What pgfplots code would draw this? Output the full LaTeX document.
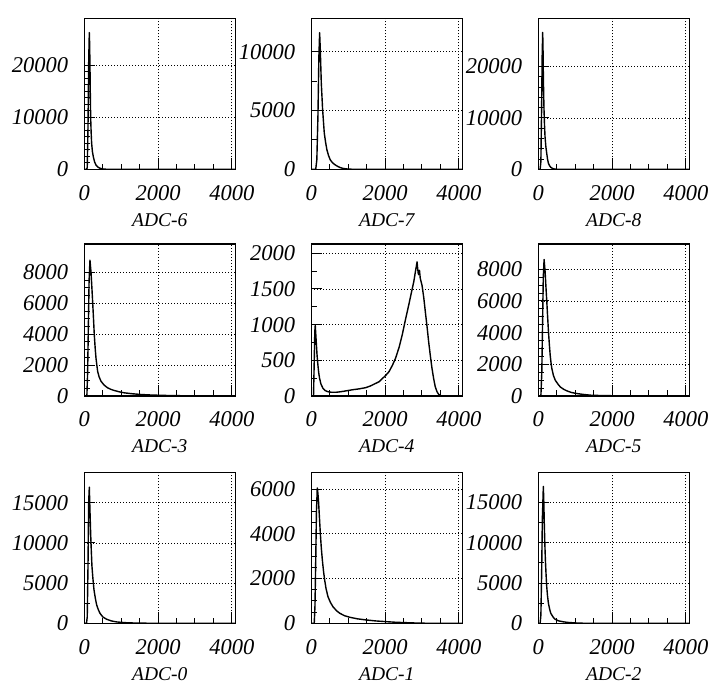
\documentclass[border=0pt]{standalone}
\usepackage{fontspec}
\setmainfont{Liberation Serif}
\usepackage{pgfplots}
\pgfplotsset{compat=1.18}
\newcommand{\tickfont}{\fontsize{22.5}{24}\selectfont\itshape}
\newcommand{\labfont}{\fontsize{19.5}{22}\selectfont\itshape}
\newcommand{\ti}[1]{\textit{#1}}
\pgfplotsset{
  rootpanel/.style={
    scale only axis, width=151pt, height=151pt,
    xmin=0, xmax=4096, ymin=0,
    xtick={0,2000,4000}, xticklabels={\ti{0},\ti{2000},\ti{4000}},
    minor x tick num=3,
    scaled ticks=false,
    tick pos=left, tick align=inside,
    major tick length=11pt, minor tick length=5.5pt,
    tick style={black, line width=1pt},
    grid=major,
    major grid style={black, line width=0.8pt, dash pattern=on 1pt off 2pt},
    axis line style={line width=1.1pt},
    ticklabel style={font=\tickfont},
    xticklabel style={anchor=base, yshift=-31pt, inner sep=0pt},
    yticklabel style={anchor=east, inner sep=0pt, xshift=-16pt},
    xlabel style={font=\labfont, at={(axis description cs:0.5,0)}, anchor=base, yshift=-57pt},
    every axis plot post/.append style={black, line width=1.4pt, mark=none, line join=round},
  }
}
\begin{document}
\begin{tikzpicture}
\useasboundingbox (0,0) rectangle (712pt,684pt);
% ---------- Row 1 ----------
\begin{axis}[rootpanel, anchor=south west, at={(84.3pt,514.7pt)}, ymax=29000,
  ytick={0,10000,20000}, yticklabels={\ti{0},\ti{10000},\ti{20000}}, minor y tick num=7, xlabel={ADC-6}]
\addplot coordinates {(0,0)(60,0)(80,300)(100,8000)(120,21000)(136,26250)(145,24000)(154,19800)(163,14500)(172,10150)(185,7200)(199,5000)(220,3400)(244,2430)(280,1400)(316,830)(370,420)(425,200)(515,50)(600,10)(700,0)(4096,0)};
\end{axis}
\begin{axis}[rootpanel, anchor=south west, at={(311.3pt,514.7pt)}, ymax=12850,
  ytick={0,5000,10000}, yticklabels={\ti{0},\ti{5000},\ti{10000}}, minor y tick num=1, xlabel={ADC-7}]
\addplot coordinates {(0,0)(120,0)(150,800)(180,4500)(205,9500)(226,11630)(244,10200)(271,7350)(307,5070)(352,3080)(390,2250)(424,1650)(470,1150)(515,800)(580,540)(650,370)(720,240)(786,140)(870,70)(967,30)(1100,5)(1250,0)(4096,0)};
\end{axis}
\begin{axis}[rootpanel, anchor=south west, at={(538.3pt,514.7pt)}, ymax=29400,
  ytick={0,10000,20000}, yticklabels={\ti{0},\ti{10000},\ti{20000}}, minor y tick num=4, xlabel={ADC-8}]
\addplot coordinates {(0,0)(50,0)(70,1500)(90,12000)(105,22000)(119,26650)(128,23500)(137,18150)(146,14500)(155,11620)(168,8700)(182,6390)(205,4400)(228,3140)(250,2000)(274,1180)(305,700)(337,390)(390,150)(455,30)(550,0)(4096,0)};
\end{axis}
% ---------- Row 2 ----------
\begin{axis}[rootpanel, anchor=south west, at={(84.3pt,288pt)}, height=152pt, ymax=9850,
  ytick={0,2000,4000,6000,8000}, yticklabels={\ti{0},\ti{2000},\ti{4000},\ti{6000},\ti{8000}}, minor y tick num=3, xlabel={ADC-3}]
\addplot coordinates {(0,0)(70,0)(90,1500)(110,4500)(130,7500)(154,8800)(181,8050)(204,7100)(226,6120)(250,5000)(271,3970)(295,3100)(317,2460)(340,2000)(362,1600)(400,1250)(452,960)(540,700)(633,530)(720,430)(814,355)(950,270)(1085,205)(1300,145)(1537,97)(1750,70)(1990,50)(2300,30)(2700,15)(3100,6)(3500,0)(4096,0)};
\end{axis}
\begin{axis}[rootpanel, anchor=south west, at={(311.3pt,288pt)}, height=152pt, ymax=2130,
  ytick={0,500,1000,1500,2000}, yticklabels={\ti{0},\ti{500},\ti{1000},\ti{1500},\ti{2000}}, minor y tick num=1, xlabel={ADC-4}]
\addplot coordinates {(0,0)(60,0)(80,500)(95,900)(107,990)(120,880)(134,760)(155,580)(179,435)(200,330)(224,250)(260,170)(314,110)(380,75)(448,60)(550,52)(672,52)(800,60)(900,68)(1031,80)(1150,90)(1300,100)(1479,117)(1600,140)(1700,165)(1838,200)(1950,255)(2030,295)(2107,340)(2200,430)(2286,530)(2380,680)(2466,855)(2550,1060)(2645,1280)(2720,1460)(2779,1600)(2830,1760)(2850,1820)(2869,1880)(2885,1790)(2900,1720)(2914,1700)(2935,1760)(2955,1650)(3004,1550)(3050,1380)(3093,1180)(3140,970)(3183,760)(3230,560)(3273,390)(3320,240)(3362,130)(3410,60)(3452,25)(3500,8)(3542,0)(4096,0)};
\end{axis}
\begin{axis}[rootpanel, anchor=south west, at={(538.3pt,288pt)}, height=152pt, ymax=9600,
  ytick={0,2000,4000,6000,8000}, yticklabels={\ti{0},\ti{2000},\ti{4000},\ti{6000},\ti{8000}}, minor y tick num=3, xlabel={ADC-5}]
\addplot coordinates {(0,0)(70,0)(95,1500)(115,4500)(135,7500)(157,8620)(184,7870)(207,6900)(230,5970)(253,5000)(276,4060)(300,3250)(322,2580)(345,2100)(367,1740)(410,1300)(459,1000)(530,760)(597,570)(690,420)(780,320)(900,220)(1055,150)(1250,90)(1422,50)(1700,28)(2063,15)(2500,6)(3000,0)(4096,0)};
\end{axis}
% ---------- Row 3 ----------
\begin{axis}[rootpanel, anchor=south west, at={(84.3pt,60.7pt)}, ymax=18800,
  ytick={0,5000,10000,15000}, yticklabels={\ti{0},\ti{5000},\ti{10000},\ti{15000}}, minor y tick num=1, xlabel={ADC-0}]
\addplot coordinates {(0,0)(60,0)(80,800)(100,7000)(118,15000)(136,16950)(154,14000)(172,11250)(190,9000)(208,7080)(235,5500)(263,4160)(300,3100)(335,2290)(380,1700)(425,1250)(500,800)(606,500)(740,290)(877,170)(1100,80)(1329,40)(1600,15)(2000,0)(4096,0)};
\end{axis}
\begin{axis}[rootpanel, anchor=south west, at={(311.3pt,60.7pt)}, ymax=6750,
  ytick={0,2000,4000,6000}, yticklabels={\ti{0},\ti{2000},\ti{4000},\ti{6000}}, minor y tick num=3, xlabel={ADC-1}]
\addplot coordinates {(0,0)(80,0)(100,800)(120,2800)(140,5000)(162,6050)(180,5800)(199,5380)(220,4750)(244,4040)(270,3400)(299,2840)(330,2350)(362,1940)(400,1550)(452,1190)(520,930)(588,740)(680,570)(770,450)(900,340)(1042,270)(1250,200)(1495,148)(1750,105)(2039,72)(2300,45)(2583,27)(2800,15)(3036,5)(3300,0)(4096,0)};
\end{axis}
\begin{axis}[rootpanel, anchor=south west, at={(538.3pt,60.7pt)}, ymax=18750,
  ytick={0,5000,10000,15000}, yticklabels={\ti{0},\ti{5000},\ti{10000},\ti{15000}}, minor y tick num=1, xlabel={ADC-2}]
\addplot coordinates {(0,0)(50,0)(70,1000)(90,6000)(110,13000)(137,17000)(150,15000)(164,12080)(178,9800)(192,7900)(210,6100)(228,4580)(250,3400)(274,2500)(305,1800)(338,1250)(400,780)(456,500)(550,300)(683,180)(800,110)(956,60)(1100,25)(1300,0)(4096,0)};
\end{axis}
\end{tikzpicture}
\end{document}
